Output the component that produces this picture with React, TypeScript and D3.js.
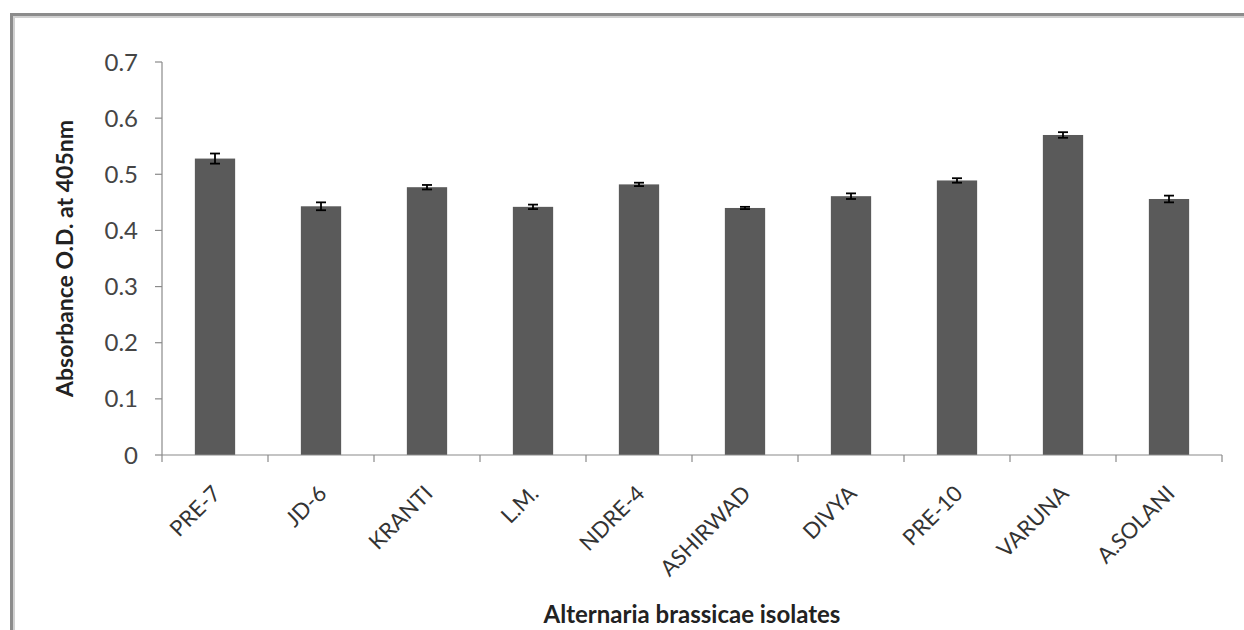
import React from "react";
import * as d3 from "d3";

const isolates = ["PRE-7", "JD-6", "KRANTI", "L.M.", "NDRE-4", "ASHIRWAD", "DIVYA", "PRE-10", "VARUNA", "A.SOLANI"];
const absorbance = [0.528, 0.443, 0.477, 0.442, 0.482, 0.44, 0.461, 0.489, 0.57, 0.456];
const errors = [0.009, 0.007, 0.004, 0.004, 0.003, 0.002, 0.005, 0.004, 0.005, 0.006];
const yTicks = [0, 0.1, 0.2, 0.3, 0.4, 0.5, 0.6, 0.7];

const W = 1244;
const H = 630;
const left = 162;
const right = 1222;
const top = 62;
const bottom = 455;

const FONT = "Lato, 'Open Sans', sans-serif";

const App = () => {
  const x = d3.scaleBand<string>().domain(isolates).range([left, right]).paddingInner(0.62).paddingOuter(0.31);
  const y = d3.scaleLinear().domain([0, 0.7]).range([bottom, top]);
  const step = x.step();
  const bw = x.bandwidth();

  return (
    <svg width={W} height={H} style={{ position: "absolute", left: 0, top: 0, background: "#fff" }}>
      {/* outer frame */}
      <rect x={11.5} y={14.5} width={W + 20} height={H + 20} fill="none" stroke="#8c8c8c" strokeWidth={3} />
      <rect x={14} y={17} width={W + 20} height={H + 20} fill="none" stroke="#d0d0d0" strokeWidth={2} />

      {/* y axis */}
      <line x1={left} x2={left} y1={top} y2={bottom} stroke="#8a8a8a" strokeWidth={1.2} />
      {yTicks.map((t) => (
        <g key={t}>
          <line x1={left - 7} x2={left} y1={y(t)} y2={y(t)} stroke="#8a8a8a" strokeWidth={1.2} />
          <text x={left - 24} y={y(t)} dy="0.36em" textAnchor="end" fontFamily={FONT} fontSize={24} fill="#454545">
            {t === 0 ? "0" : d3.format(".1f")(t)}
          </text>
        </g>
      ))}

      {/* bars */}
      {isolates.map((c, i) => (
        <rect key={c} x={x(c)} y={y(absorbance[i])} width={bw} height={bottom - y(absorbance[i])} fill="#5a5a5a" />
      ))}

      {/* error bars */}
      {isolates.map((c, i) => {
        const cx = x(c)! + bw / 2;
        const hi = y(absorbance[i] + errors[i]);
        const lo = y(absorbance[i] - errors[i]);
        return (
          <g key={c} stroke="#000" strokeWidth={1.8}>
            <line x1={cx} x2={cx} y1={hi} y2={lo} />
            <line x1={cx - 5} x2={cx + 5} y1={hi} y2={hi} />
            <line x1={cx - 5} x2={cx + 5} y1={lo} y2={lo} />
          </g>
        );
      })}

      {/* x axis */}
      <line x1={left} x2={right} y1={bottom} y2={bottom} stroke="#8a8a8a" strokeWidth={1.2} />
      {d3.range(isolates.length + 1).map((k) => (
        <line key={k} x1={left + k * step} x2={left + k * step} y1={bottom} y2={bottom + 7} stroke="#8a8a8a" strokeWidth={1.2} />
      ))}
      {isolates.map((c) => {
        const cx = x(c)! + bw / 2 + 7;
        const ty = bottom + 40;
        return (
          <text
            key={c}
            x={cx}
            y={ty}
            textAnchor="end"
            transform={`rotate(-45, ${cx}, ${ty})`}
            fontFamily={FONT}
            fontSize={22}
            fill="#333"
          >
            {c}
          </text>
        );
      })}

      {/* axis titles */}
      <text
        transform={`translate(73, ${(top + bottom) / 2}) rotate(-90)`}
        textAnchor="middle"
        fontFamily={FONT}
        fontWeight="bold"
        fontSize={23}
        fill="#222"
      >
        Absorbance O.D. at 405nm
      </text>
      <text x={(left + right) / 2} y={623} textAnchor="middle" fontFamily={FONT} fontWeight="bold" fontSize={24} fill="#222">
        Alternaria brassicae isolates
      </text>
    </svg>
  );
};

export default App;
